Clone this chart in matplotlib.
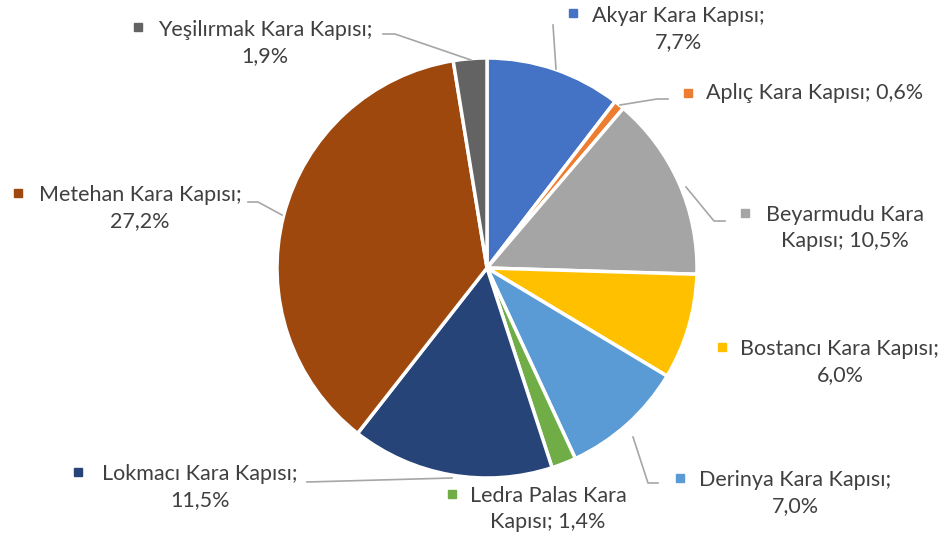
import matplotlib
matplotlib.use("Agg")
import matplotlib.pyplot as plt

plt.rcParams['font.family'] = ['Lato', 'DejaVu Sans']

names = ["Akyar Kara Kapısı", "Aplıç Kara Kapısı", "Beyarmudu Kara Kapısı",
         "Bostancı Kara Kapısı", "Derinya Kara Kapısı", "Ledra Palas Kara Kapısı",
         "Lokmacı Kara Kapısı", "Metehan Kara Kapısı", "Yeşilırmak Kara Kapısı"]
values = [7.7, 0.6, 10.5, 6.0, 7.0, 1.4, 11.5, 27.2, 1.9]
colors = ["#4472C4", "#ED7D31", "#A5A5A5", "#FFC000", "#5B9BD5",
          "#70AD47", "#264478", "#9E480E", "#636363"]

# label text as shown (line breaks as in the chart)
label_fmt = ["{n};\n{v}", "{n}; {v}", "Beyarmudu Kara\nKapısı; {v}", "{n};\n{v}",
             "{n};\n{v}", "Ledra Palas Kara\nKapısı; {v}", "{n};\n{v}", "{n};\n{v}", "{n};\n{v}"]

W, H = 947, 543
# layout in pixel coordinates (y from top): text anchor, marker, alignment
text_pos = [(678, 29), (706, 93), (845, 228), (840, 362), (795, 493),
            (548, 509), (200, 487), (140, 208), (265, 43)]
text_ha = ["center", "left", "center", "center", "center", "center", "center", "center", "center"]
marker_pos = [(573, 13), (688, 93), (745, 213), (722, 347), (680, 478),
              (452, 494), (78, 472), (18, 193), (138, 27)]
leaders = [
    [(553, 25), (556, 69)],
    [(620, 105), (657, 99), (668, 99)],
    [(686, 187), (714, 221), (725, 221)],
    None,
    [(633, 437), (648, 483), (658, 483)],
    None,
    [(452, 478), (307, 482)],
    [(282, 215), (258, 202), (248, 202)],
    [(471, 60), (395, 34), (383, 34)],
]

fig = plt.figure(figsize=(W / 100, H / 100), dpi=100)
ax = fig.add_axes([0, 0, 1, 1])
ax.set_xlim(0, W)
ax.set_ylim(0, H)
ax.axis('off')

ax.pie(values, colors=colors, startangle=90, counterclock=False,
       center=(487, H - 268), radius=210,
       wedgeprops=dict(edgecolor='white', linewidth=2.5))
ax.set_xlim(0, W)
ax.set_ylim(0, H)

txt_color = "#404040"
for i, n in enumerate(names):
    v = ("%.1f%%" % values[i]).replace('.', ',')
    s = label_fmt[i].format(n=n, v=v)
    tx, ty = text_pos[i]
    if text_ha[i] == "left":
        ax.text(tx, H - ty, s, ha='left', va='center', fontsize=15.5, color=txt_color)
    else:
        ax.text(tx, H - ty, s, ha='center', va='center', fontsize=15.5, color=txt_color,
                multialignment='center', linespacing=1.4)
    mx, my = marker_pos[i]
    ax.plot(mx, H - my, marker='s', markersize=6, color=colors[i], linestyle='none')
    if leaders[i]:
        xs = [p[0] for p in leaders[i]]
        ys = [H - p[1] for p in leaders[i]]
        ax.plot(xs, ys, color='#A6A6A6', linewidth=1.2)

fig.savefig('out.png', dpi=100)
